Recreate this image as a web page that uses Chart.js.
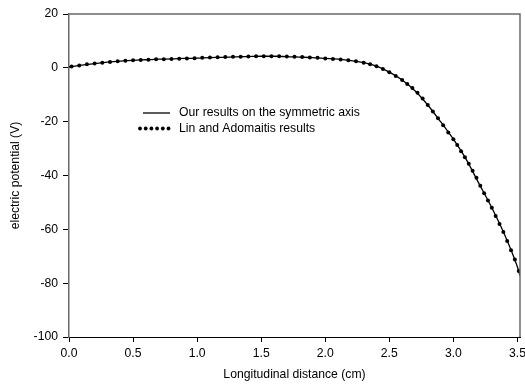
<!DOCTYPE html>
<html>
<head>
<meta charset="utf-8">
<script src="https://cdn.jsdelivr.net/npm/chart.js@4.4.1/dist/chart.umd.min.js"></script>
<style>
  html, body { margin: 0; padding: 0; background: #fff; }
  #wrap { width: 525px; height: 385px; }
</style>
</head>
<body>
<div id="wrap"><canvas id="chart" width="525" height="385"></canvas></div>
<script>
// our results (solid line)
const oursX = [0.0, 0.1, 0.2, 0.3, 0.4, 0.5, 0.6, 0.7, 0.8, 0.9, 1.0, 1.1, 1.2, 1.3, 1.4, 1.5, 1.6, 1.7, 1.8, 1.9,
  2.0, 2.1, 2.2, 2.3, 2.4, 2.5, 2.6, 2.7, 2.8, 2.9, 3.0, 3.1, 3.2, 3.3, 3.4, 3.5, 3.52];
const oursY = [0.3, 1.0, 1.6, 2.1, 2.5, 2.8, 3.0, 3.2, 3.3, 3.5, 3.6, 3.8, 3.9, 4.1, 4.2, 4.3, 4.3, 4.2, 4.0, 3.8,
  3.5, 3.2, 2.7, 1.9, 0.6, -1.6, -4.5, -8.5, -13.8, -20.0, -26.5, -34.0, -43.0, -52.0, -62.0, -74.0, -77.3];

// Lin and Adomaitis results (dots)
const linX = [0.02, 0.08, 0.14, 0.2, 0.26, 0.32, 0.38, 0.44, 0.5, 0.56, 0.62, 0.68, 0.74, 0.8, 0.86, 0.92, 0.98,
  1.04, 1.1, 1.16, 1.22, 1.28, 1.34, 1.4, 1.46, 1.52, 1.58, 1.64, 1.7, 1.76, 1.82, 1.88, 1.94, 2.0, 2.06, 2.12,
  2.18, 2.24, 2.3, 2.35, 2.4, 2.45, 2.5, 2.55, 2.6, 2.64, 2.68, 2.72, 2.76, 2.8, 2.84, 2.88, 2.92, 2.96, 3.0,
  3.03, 3.06, 3.09, 3.12, 3.15, 3.18, 3.21, 3.24, 3.27, 3.3, 3.33, 3.36, 3.39, 3.42, 3.45, 3.48, 3.51];
const linY = [0.5, 0.9, 1.3, 1.6, 1.9, 2.2, 2.4, 2.6, 2.8, 2.9, 3.0, 3.2, 3.2, 3.3, 3.4, 3.5, 3.6,
  3.7, 3.8, 3.9, 4.0, 4.1, 4.1, 4.2, 4.3, 4.3, 4.3, 4.3, 4.2, 4.1, 4.0, 3.8, 3.7, 3.5, 3.3, 3.1,
  2.8, 2.4, 1.9, 1.3, 0.6, -0.4, -1.6, -3.0, -4.5, -6.0, -7.5, -9.3, -11.4, -13.8, -16.2, -18.7, -21.3, -24.0, -26.5,
  -28.7, -31.0, -33.2, -35.6, -38.2, -40.8, -43.8, -46.6, -49.3, -52.0, -55.0, -58.0, -61.0, -64.3, -67.8, -71.2, -75.5];

const xTicks = [0, 0.5, 1.0, 1.5, 2.0, 2.5, 3.0, 3.5];
const yTicks = [-100, -80, -60, -40, -20, 0, 20];
const seriesNames = ['Our results on the symmetric axis', 'Lin and Adomaitis results'];

const FONT = { family: 'Liberation Sans, Arial, sans-serif', size: 12.2 };

// top/right frame plus the legend inside the plot
const framePlugin = {
  id: 'frame',
  afterDraw(chart) {
    const ctx = chart.ctx;
    const a = chart.chartArea;
    ctx.save();
    ctx.strokeStyle = '#6a6a6a';
    ctx.lineWidth = 1.5;
    ctx.beginPath();
    ctx.moveTo(a.left, a.top);
    ctx.lineTo(a.right, a.top);
    ctx.lineTo(a.right, a.bottom);
    ctx.stroke();

    // legend
    ctx.fillStyle = '#000';
    ctx.strokeStyle = '#000';
    ctx.font = FONT.size + 'px ' + FONT.family;
    ctx.textBaseline = 'middle';
    ctx.lineWidth = 1.3;
    ctx.beginPath();
    ctx.moveTo(143, 113);
    ctx.lineTo(170, 113);
    ctx.stroke();
    ctx.fillText(seriesNames[0], 179, 113);
    for (let i = 0; i < 6; i++) {
      ctx.beginPath();
      ctx.arc(140 + i * 5.7, 128.5, 1.9, 0, Math.PI * 2);
      ctx.fill();
    }
    ctx.fillText(seriesNames[1], 179, 129);
    ctx.restore();
  }
};

new Chart(document.getElementById('chart'), {
  type: 'scatter',
  data: {
    datasets: [
      {
        label: seriesNames[0],
        data: oursX.map((x, i) => ({ x: x, y: oursY[i] })),
        showLine: true,
        borderColor: '#000',
        borderWidth: 1.3,
        pointRadius: 0,
        cubicInterpolationMode: 'monotone'
      },
      {
        label: seriesNames[1],
        data: linX.map((x, i) => ({ x: x, y: linY[i] })),
        showLine: false,
        pointRadius: 2,
        pointBorderWidth: 0,
        backgroundColor: '#000',
        borderColor: '#000'
      }
    ]
  },
  options: {
    responsive: false,
    animation: false,
    layout: { padding: { top: 14, right: 5, left: 0, bottom: 0 } },
    plugins: { legend: { display: false }, tooltip: { enabled: false } },
    scales: {
      x: {
        type: 'linear',
        min: 0,
        max: 3.52,
        afterBuildTicks: s => { s.ticks = xTicks.map(v => ({ value: v })); },
        afterFit: s => { s.height = 48; s.paddingLeft = 0; s.paddingRight = 0; },
        ticks: {
          color: '#000',
          font: FONT,
          padding: 4,
          maxRotation: 0,
          autoSkip: false,
          callback: v => Number(v).toFixed(1)
        },
        grid: { drawOnChartArea: false, drawTicks: true, tickLength: 5, tickColor: '#000', tickWidth: 1 },
        border: { display: true, color: '#000', width: 1 },
        title: { display: true, text: 'Longitudinal distance (cm)', color: '#000', font: FONT, padding: { top: 0, bottom: 3 } }
      },
      y: {
        type: 'linear',
        min: -100,
        max: 20,
        afterBuildTicks: s => { s.ticks = yTicks.map(v => ({ value: v })); },
        afterFit: s => { s.width = 69; s.paddingTop = 0; s.paddingBottom = 0; },
        ticks: { color: '#000', font: FONT, padding: 5, autoSkip: false },
        grid: { drawOnChartArea: false, drawTicks: true, tickLength: 6, tickColor: '#000', tickWidth: 1 },
        border: { display: true, color: '#6a6a6a', width: 1.5 },
        title: { display: true, text: 'electric potential (V)', color: '#000', font: FONT, padding: { top: 8, bottom: 0 } }
      }
    }
  },
  plugins: [framePlugin]
});
</script>
</body>
</html>
